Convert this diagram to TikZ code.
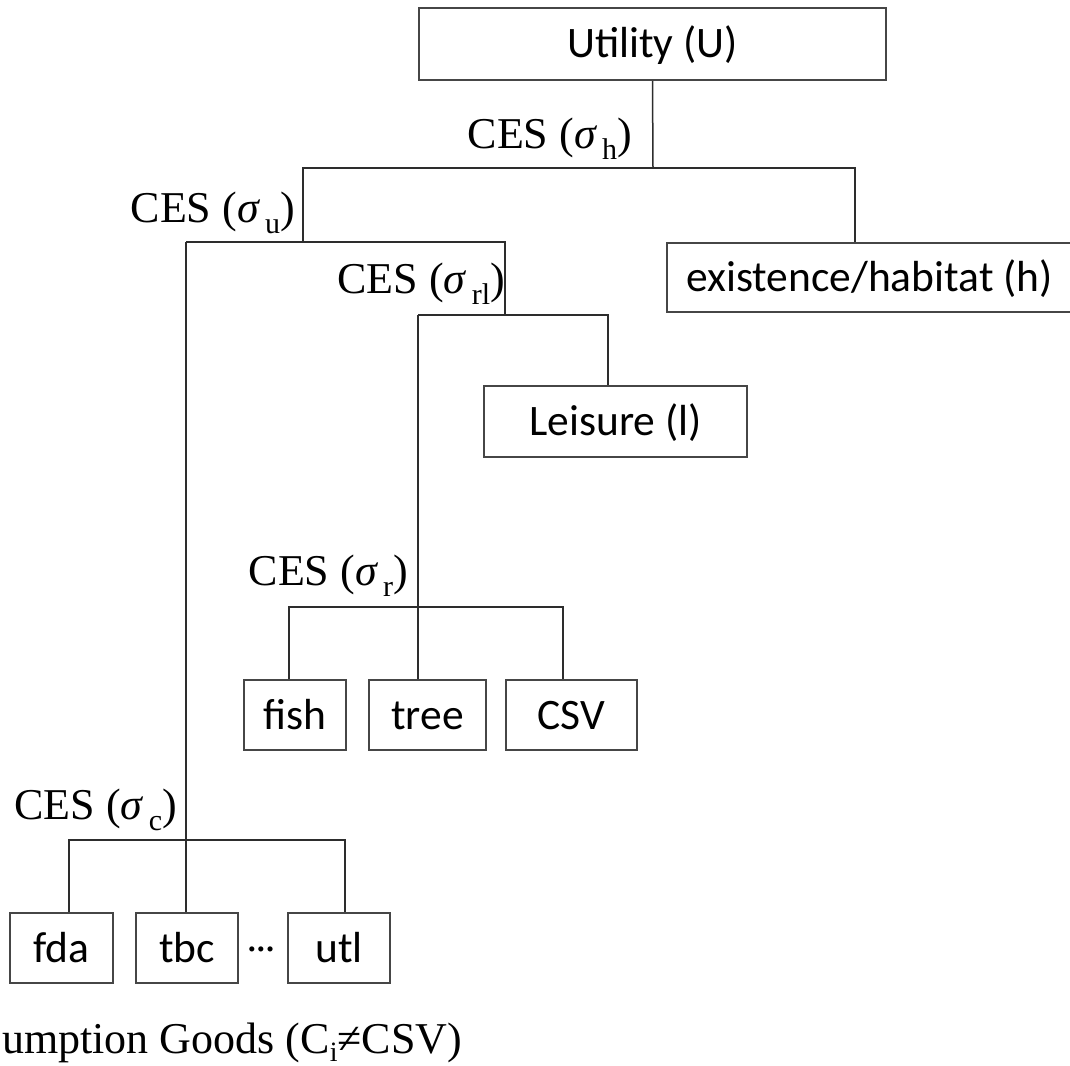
\documentclass[tikz,border=0pt]{standalone}
\usepackage{fontspec}
\setmainfont{Liberation Serif}
\newfontfamily\boxfont{Carlito}
\definecolor{boxgray}{RGB}{70,70,70}
\definecolor{linegray}{RGB}{45,45,45}
\newcommand{\cesl}[1]{CES (\textit{σ}\hspace{5pt}\raisebox{-11pt}{\fontsize{30}{30}\selectfont #1})}
\tikzset{
  box/.style={draw=boxgray, line width=2pt, fill=white, inner sep=0pt,
    font=\boxfont\fontsize{43.5}{43.5}\selectfont, text=black,
    text height=36pt, text depth=8pt},
  conn/.style={draw=linegray, line width=1.5pt},
  ces/.style={inner sep=0pt, anchor=base east, font=\fontsize{44}{44}\selectfont, text=black},
}
\begin{document}
\begin{tikzpicture}[x=1pt,y=-1pt]
\path[use as bounding box] (0,0) rectangle (1070,1065);
\clip (0,0) rectangle (1070,1065);
\fill[white] (0,0) rectangle (1070,1065);

% boxes
\node[box, minimum width=467pt, minimum height=72pt] (U) at (652.5,44) {Utility (U)};
\node[box, minimum width=405pt, minimum height=69pt] (H) at (869.5,277.5) {existence/habitat (h)};
\node[box, minimum width=263pt, minimum height=71pt] (L) at (615.5,421.5) {Leisure (l)};
\node[box, minimum width=102pt, minimum height=70pt] (fish) at (295,715) {fish};
\node[box, minimum width=117pt, minimum height=70pt] (tree) at (427.5,715) {tree};
\node[box, minimum width=131pt, minimum height=70pt] (CSV) at (571.5,715) {CSV};
\node[box, minimum width=103pt, minimum height=70pt] (fda) at (61.5,948) {fda};
\node[box, minimum width=102pt, minimum height=70pt] (tbc) at (187,948) {tbc};
\node[box, minimum width=102pt, minimum height=70pt] (utl) at (339,948) {utl};
\node[inner sep=0pt, font=\boxfont\fontsize{36}{36}\selectfont] (dots) at (261,953) {···};

% junctions
\coordinate (jh) at (653,168);
\coordinate (ju) at (303,242);
\coordinate (jrl) at (505,315);
\coordinate (jr) at (418,607);
\coordinate (jc) at (186,840);

% connectors
\draw[conn] (U.south) -- (jh);
\draw[conn] (ju) -- (ju |- jh) -- (jh);
\draw[conn] (jh) -| ([xshift=-14.5pt]H.north);
\draw[conn] (jc |- ju) -- (jrl |- ju) -- (jrl);
\draw[conn] (jc |- ju) -- ([xshift=-1pt]tbc.north);
\draw[conn] (jr |- jrl) -- ([xshift=-7.5pt]L.north |- jrl) -- ([xshift=-7.5pt]L.north);
\draw[conn] (jr |- jrl) -- ([xshift=-9.5pt]tree.north);
\draw[conn] ([xshift=-6pt]fish.north) |- (jr) -| ([xshift=-8.5pt]CSV.north);
\draw[conn] ([xshift=7.5pt]fda.north) |- (jc) -| ([xshift=6pt]utl.north);

% labels
\node[ces] (ch) at (632,148) {\cesl{h}};
\node[ces] (cu) at (295,222) {\cesl{u}};
\node[ces] (crl) at (505,293) {\cesl{rl}};
\node[ces] (cr) at (408,585) {\cesl{r}};
\node[ces] (cc) at (177,819) {\cesl{c}};
\node[ces, anchor=base west] (goods) at (2,1053) {umption Goods (C\raisebox{-8pt}{\fontsize{28}{28}\selectfont i}≠CSV)};
\end{tikzpicture}
\end{document}
